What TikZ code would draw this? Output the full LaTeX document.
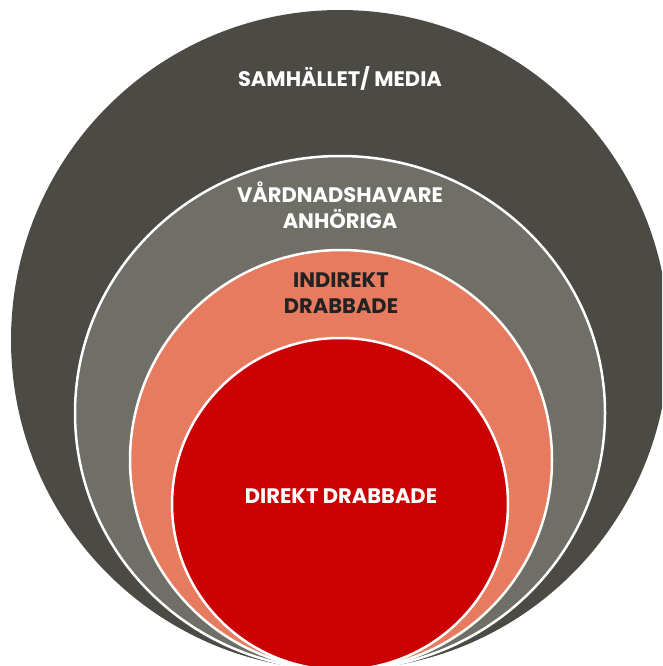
\documentclass[tikz,border=0pt]{standalone}
\usepackage{fontspec}
\setmainfont{Poppins}
\definecolor{outerc}{HTML}{4B4A44}
\definecolor{grayc}{HTML}{6F6E67}
\definecolor{salmonc}{HTML}{E77B5F}
\definecolor{redc}{HTML}{CC0000}
\definecolor{darktext}{HTML}{222222}
\begin{document}
\begin{tikzpicture}[x=1pt,y=-1pt,
  ring/.style={draw=white,line width=2.5pt},
  lbl/.style={font=\fontsize{21}{26}\selectfont\bfseries,align=center,inner sep=0pt,text=white}]
\useasboundingbox (0,0) rectangle (662,666);
\clip (0,0) rectangle (662,666);
\fill[white] (0,0) rectangle (662,666);
\fill[outerc] (340,340) ellipse [x radius=329, y radius=330];
\filldraw[grayc,ring] (340,413) ellipse [x radius=265, y radius=257];
\filldraw[salmonc,ring] (341,460) ellipse [x radius=211, y radius=210];
\filldraw[redc,ring] (340,504) ellipse [x radius=168, y radius=166];
\node[lbl] (samh) at (340,78) {SAMHÄLLET/ MEDIA};
\node[lbl] (vard) at (340,205) {VÅRDNADSHAVARE\\ANHÖRIGA};
\node[lbl,text=darktext] (indir) at (341,293) {INDIREKT\\DRABBADE};
\node[lbl] (dir) at (341,496) {DIREKT DRABBADE};
\end{tikzpicture}
\end{document}
